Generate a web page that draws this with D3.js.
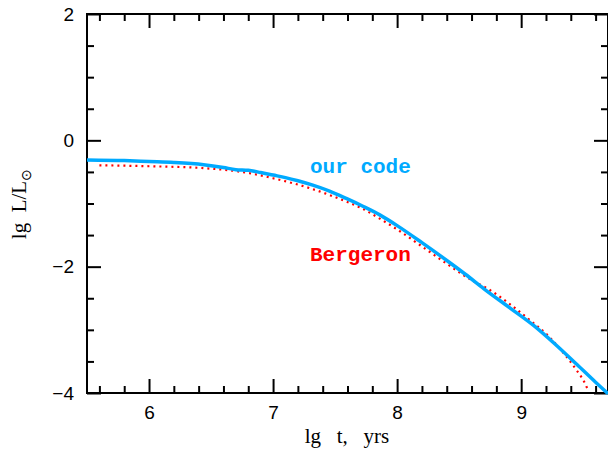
<!DOCTYPE html>
<html>
<head>
<meta charset="utf-8">
<script src="https://cdn.jsdelivr.net/npm/d3@7"></script>
<style>
  html, body { margin: 0; padding: 0; background: #fff; }
  svg { display: block; }
</style>
</head>
<body>
<svg id="chart" width="608" height="455"></svg>
<script>
// ---- data ----
const ourCodeX = [5.5, 5.8, 6.0, 6.2, 6.44, 6.6, 6.7, 6.8, 6.9, 7.0, 7.1, 7.2, 7.32, 7.45, 7.59, 7.72, 7.86, 8.0, 8.2, 8.42, 8.55, 8.7, 8.9, 9.1, 9.27, 9.45, 9.6, 9.7];
const ourCodeY = [-0.31, -0.32, -0.335, -0.35, -0.385, -0.43, -0.465, -0.475, -0.51, -0.55, -0.59, -0.64, -0.71, -0.80, -0.92, -1.04, -1.18, -1.35, -1.62, -1.93, -2.12, -2.35, -2.64, -2.93, -3.22, -3.55, -3.83, -4.01];
const bergeronX = [5.6, 6.0, 6.44, 6.81, 7.0, 7.3, 7.59, 7.72, 7.86, 8.0, 8.2, 8.42, 8.58, 8.74, 8.9, 9.06, 9.22, 9.33, 9.44, 9.52, 9.54];
const bergeronY = [-0.395, -0.41, -0.44, -0.52, -0.60, -0.76, -0.97, -1.08, -1.24, -1.41, -1.68, -1.98, -2.19, -2.36, -2.58, -2.83, -3.10, -3.34, -3.62, -3.87, -3.96];
const xMajorTicks = [6, 7, 8, 9];
const xMinorTicks = [5.6, 5.8, 6.2, 6.4, 6.6, 6.8, 7.2, 7.4, 7.6, 7.8, 8.2, 8.4, 8.6, 8.8, 9.2, 9.4, 9.6];
const yMajorTicks = [-4, -2, 0, 2];
const yMinorTicks = [-3.5, -3, -2.5, -1.5, -1, -0.5, 0.5, 1, 1.5];
const xDomain = [5.5, 9.7];
const yDomain = [-4, 2];

// ---- layout ----
const L = 87, R = 608, T = 14, B = 393;
const svg = d3.select("#chart");
const x = d3.scaleLinear().domain(xDomain).range([L, R]);
const y = d3.scaleLinear().domain(yDomain).range([B, T]);
const fmt = d => (d < 0 ? "\u2212" + Math.abs(d) : String(d));

function styleAxis(g) {
  g.select(".domain").remove();
  g.selectAll(".tick line").attr("stroke", "#000").attr("stroke-width", 2);
  g.selectAll("text").attr("font-family", "'Liberation Sans', Arial, sans-serif")
    .attr("font-size", 19).attr("fill", "#000");
}

// bottom
svg.append("g").attr("transform", `translate(0,${B})`)
  .call(d3.axisBottom(x).tickValues(xMajorTicks).tickSize(-14).tickPadding(13).tickFormat(fmt)).call(styleAxis);
svg.append("g").attr("transform", `translate(0,${B})`)
  .call(d3.axisBottom(x).tickValues(xMinorTicks).tickSize(-7).tickFormat("")).call(styleAxis);
// top
svg.append("g").attr("transform", `translate(0,${T})`)
  .call(d3.axisTop(x).tickValues(xMajorTicks).tickSize(-14).tickFormat("")).call(styleAxis);
svg.append("g").attr("transform", `translate(0,${T})`)
  .call(d3.axisTop(x).tickValues(xMinorTicks).tickSize(-7).tickFormat("")).call(styleAxis);
// left
svg.append("g").attr("transform", `translate(${L},0)`)
  .call(d3.axisLeft(y).tickValues(yMajorTicks).tickSize(-14).tickPadding(13).tickFormat(fmt)).call(styleAxis);
svg.append("g").attr("transform", `translate(${L},0)`)
  .call(d3.axisLeft(y).tickValues(yMinorTicks).tickSize(-7).tickFormat("")).call(styleAxis);
// right
svg.append("g").attr("transform", `translate(${R},0)`)
  .call(d3.axisRight(y).tickValues(yMajorTicks).tickSize(-14).tickFormat("")).call(styleAxis);
svg.append("g").attr("transform", `translate(${R},0)`)
  .call(d3.axisRight(y).tickValues(yMinorTicks).tickSize(-7).tickFormat("")).call(styleAxis);

// frame
svg.append("rect").attr("x", L).attr("y", T).attr("width", R - L).attr("height", B - T)
  .attr("fill", "none").attr("stroke", "#000").attr("stroke-width", 2);

// curves
const clip = svg.append("defs").append("clipPath").attr("id", "clip")
  .append("rect").attr("x", L).attr("y", T).attr("width", R - L).attr("height", B - T + 2);

const line = d3.line().x(d => x(d[0])).y(d => y(d[1])).curve(d3.curveMonotoneX);
const bergeron = bergeronX.map((v, i) => [v, bergeronY[i]]);
const ourCode = ourCodeX.map((v, i) => [v, ourCodeY[i]]);

svg.append("path").datum(bergeron).attr("d", line).attr("clip-path", "url(#clip)")
  .attr("fill", "none").attr("stroke", "#ff0000").attr("stroke-width", 2.2)
  .attr("stroke-dasharray", "2,4");
svg.append("path").datum(ourCode).attr("d", line).attr("clip-path", "url(#clip)")
  .attr("fill", "none").attr("stroke", "#00aaff").attr("stroke-width", 3.5)
  .attr("stroke-linejoin", "round");

// series labels
svg.append("text").attr("x", 310).attr("y", 173)
  .attr("font-family", "'Liberation Mono', 'Courier New', monospace").attr("font-weight", "bold")
  .attr("font-size", 21).attr("fill", "#00aaff").text("our code");
svg.append("text").attr("x", 310).attr("y", 261)
  .attr("font-family", "'Liberation Mono', 'Courier New', monospace").attr("font-weight", "bold")
  .attr("font-size", 21).attr("fill", "#ff0000").text("Bergeron");

// axis titles
svg.append("text").attr("x", 347).attr("y", 443).attr("text-anchor", "middle")
  .attr("font-family", "'Liberation Serif', 'Times New Roman', serif").attr("font-size", 21)
  .style("white-space", "pre").text("lg   t,   yrs");

const yl = svg.append("text").attr("transform", "translate(26,204) rotate(-90)")
  .attr("text-anchor", "middle")
  .attr("font-family", "'Liberation Serif', 'Times New Roman', serif").attr("font-size", 21)
  .style("white-space", "pre");
yl.append("tspan").text("lg  L/L");
yl.append("tspan").attr("font-size", 14).attr("dy", 5).text("\u2299");
</script>
</body>
</html>
